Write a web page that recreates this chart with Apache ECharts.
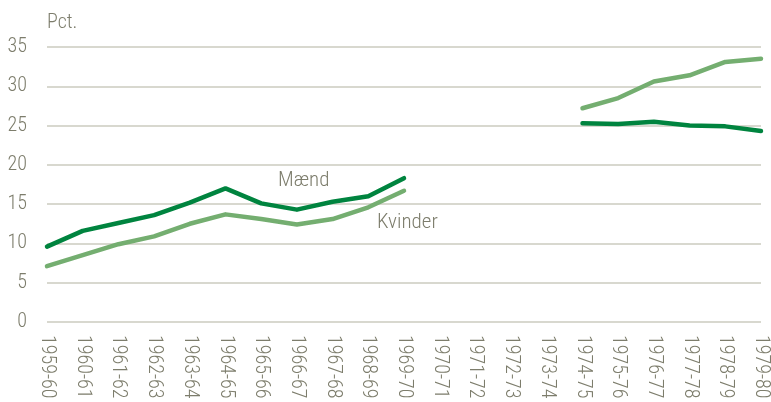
<!DOCTYPE html>
<html>
<head>
<meta charset="utf-8">
<script src="https://cdn.jsdelivr.net/npm/echarts@6/dist/echarts.min.js"></script>
<style>
  html, body { margin: 0; padding: 0; background: #ffffff; }
  #chart { width: 771px; height: 402px; }
</style>
</head>
<body>
<div id="chart"></div>
<script>
// School years on the category axis
const years = [
  '1959-60', '1960-61', '1961-62', '1962-63', '1963-64', '1964-65',
  '1965-66', '1966-67', '1967-68', '1968-69', '1969-70', '1970-71',
  '1971-72', '1972-73', '1973-74', '1974-75', '1975-76', '1976-77',
  '1977-78', '1978-79', '1979-80'
];

// Share in percent; null marks years without data (gap in the line)
const maend = [
  9.6, 11.6, 12.6, 13.6, 15.2, 17.0, 15.1, 14.3, 15.3, 16.0, 18.3,
  null, null, null, null,
  25.3, 25.2, 25.5, 25.0, 24.9, 24.3
];
const kvinder = [
  7.1, 8.5, 9.9, 10.9, 12.5, 13.7, 13.1, 12.4, 13.1, 14.6, 16.7,
  null, null, null, null,
  27.2, 28.5, 30.6, 31.4, 33.1, 33.5
];

const seriesNames = ['Mænd', 'Kvinder'];
const yTicks = { min: 0, max: 35, step: 5 };

const FONT = '"Roboto Condensed", "Roboto", sans-serif';
const WEIGHT = 300;
const TEXT = '#7d7d6c';
const DARK = '#00843f';
const LIGHT = '#74ae70';

const chart = echarts.init(document.getElementById('chart'), null, { renderer: 'canvas' });

chart.setOption({
  animation: false,
  backgroundColor: '#ffffff',
  grid: { left: 47, right: 8, top: 47, bottom: 80, containLabel: false },
  xAxis: {
    type: 'category',
    data: years,
    boundaryGap: false,
    axisLine: { show: false },
    axisTick: { show: false },
    axisLabel: {
      rotate: -90,
      interval: 0,
      margin: 13,
      color: TEXT,
      fontFamily: FONT,
      fontWeight: WEIGHT,
      fontSize: 20
    }
  },
  yAxis: {
    type: 'value',
    min: yTicks.min,
    max: yTicks.max,
    interval: yTicks.step,
    axisLine: { show: false },
    axisTick: { show: false },
    axisLabel: {
      margin: 20,
      color: TEXT,
      fontFamily: FONT,
      fontWeight: WEIGHT,
      fontSize: 20
    },
    splitLine: { lineStyle: { color: '#cbcbbf', width: 1.5 } }
  },
  series: [
    {
      name: seriesNames[0],
      type: 'line',
      data: maend,
      showSymbol: false,
      connectNulls: false,
      lineStyle: { color: DARK, width: 4.5, join: 'round', cap: 'round' },
      z: 3
    },
    {
      name: seriesNames[1],
      type: 'line',
      data: kvinder,
      showSymbol: false,
      connectNulls: false,
      lineStyle: { color: LIGHT, width: 4.5, join: 'round', cap: 'round' },
      z: 2
    }
  ],
  graphic: [
    {
      type: 'text', left: 47, top: 13,
      style: { text: 'Pct.', fill: TEXT, font: WEIGHT + ' 20px ' + FONT }
    },
    {
      type: 'text', left: 278, top: 170,
      style: { text: seriesNames[0], fill: TEXT, font: WEIGHT + ' 21px ' + FONT }
    },
    {
      type: 'text', left: 377, top: 212,
      style: { text: seriesNames[1], fill: TEXT, font: WEIGHT + ' 21px ' + FONT }
    }
  ]
});
</script>
</body>
</html>
